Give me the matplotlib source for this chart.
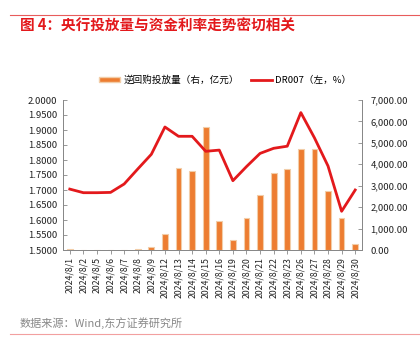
import matplotlib
matplotlib.use("Agg")
import matplotlib.pyplot as plt
from matplotlib.lines import Line2D
from matplotlib.patches import Patch
from matplotlib.ticker import FuncFormatter, MultipleLocator

plt.rcParams['font.family'] = ['Noto Sans CJK SC', 'DejaVu Sans']

dates = ["2024/8/1", "2024/8/2", "2024/8/5", "2024/8/6", "2024/8/7", "2024/8/8",
         "2024/8/9", "2024/8/12", "2024/8/13", "2024/8/14", "2024/8/15", "2024/8/16",
         "2024/8/19", "2024/8/20", "2024/8/21", "2024/8/22", "2024/8/23", "2024/8/26",
         "2024/8/27", "2024/8/28", "2024/8/29", "2024/8/30"]
reverse_repo = [70, 10, 5, 5, 0, 30, 125, 730, 3830, 3690, 5760, 1350,
                480, 1480, 2550, 3580, 3760, 4700, 4700, 2750, 1480, 280]
dr007 = [1.703, 1.691, 1.691, 1.692, 1.720, 1.770, 1.819, 1.910, 1.879, 1.879,
         1.829, 1.833, 1.731, 1.778, 1.822, 1.839, 1.846, 1.958, 1.874, 1.780,
         1.629, 1.700]

RED = "#E3191C"
ORANGE = "#ED7D31"
GREY = "#888888"

fig = plt.figure(figsize=(4.2, 3.48), dpi=100)
ax = fig.add_axes([63 / 420, 1 - 250 / 348, (362 - 63) / 420, 150 / 348])
ax2 = ax.twinx()

x = list(range(len(dates)))
ax2.bar(x, reverse_repo, width=0.42, color=ORANGE, edgecolor="#F2CDA8",
        linewidth=0.8, zorder=2)
ax.plot(x, dr007, color=RED, linewidth=2.0, zorder=5)
ax.set_zorder(ax2.get_zorder() + 1)
ax.patch.set_visible(False)

ax.set_xlim(-0.5, len(dates) - 0.5)
ax.set_ylim(1.5, 2.0)
ax.yaxis.set_major_locator(MultipleLocator(0.05))
ax.yaxis.set_major_formatter(FuncFormatter(lambda v, p: f"{v:.4f}"))
ax2.set_ylim(0, 7000)
ax2.yaxis.set_major_locator(MultipleLocator(1000))
ax2.yaxis.set_major_formatter(FuncFormatter(lambda v, p: f"{v:,.2f}"))

ax.set_xticks(x)
ax.set_xticklabels(dates, rotation=90, fontsize=6.3, color="#222222")
for a in (ax, ax2):
    a.tick_params(axis="y", labelsize=6.8, colors="#222222", direction="in",
                  length=3, width=0.6, color=GREY)
    a.spines["top"].set_visible(False)
    for s in ("left", "right", "bottom"):
        a.spines[s].set_color(GREY)
        a.spines[s].set_linewidth(0.7)
ax.tick_params(axis="x", length=3, width=0.6, color=GREY, direction="out", pad=2)
ax.tick_params(axis="y", pad=4)
ax2.tick_params(axis="y", pad=6)

handles = [Patch(facecolor=ORANGE, edgecolor="#F2CDA8"),
           Line2D([0], [0], color=RED, linewidth=2.0)]
fig.legend(handles, ["逆回购投放量（右，亿元）", "DR007（左，%）"],
           loc="center left", bbox_to_anchor=(90 / 420, 1 - 80 / 348), ncol=2,
           frameon=False, fontsize=6.9, handlelength=2.2, handleheight=0.35,
           handletextpad=0.4, columnspacing=1.2)

fig.add_artist(Line2D([10 / 420, 1.0], [1 - 15 / 348] * 2, color="#E85C5C",
                      linewidth=0.8))
fig.text(20 / 420, 1 - 26 / 348, "图 4：央行投放量与资金利率走势密切相关",
         fontsize=10.5, color=RED, fontweight="bold", va="center", ha="left")
fig.text(20 / 420, 1 - 323 / 348, "数据来源：Wind,东方证券研究所",
         fontsize=8, color="#888888", va="center", ha="left")
fig.add_artist(Line2D([10 / 420, 1.0], [1 - 334 / 348] * 2, color="#F2A0A0",
                      linewidth=0.8))

fig.savefig("out.png", dpi=100)
